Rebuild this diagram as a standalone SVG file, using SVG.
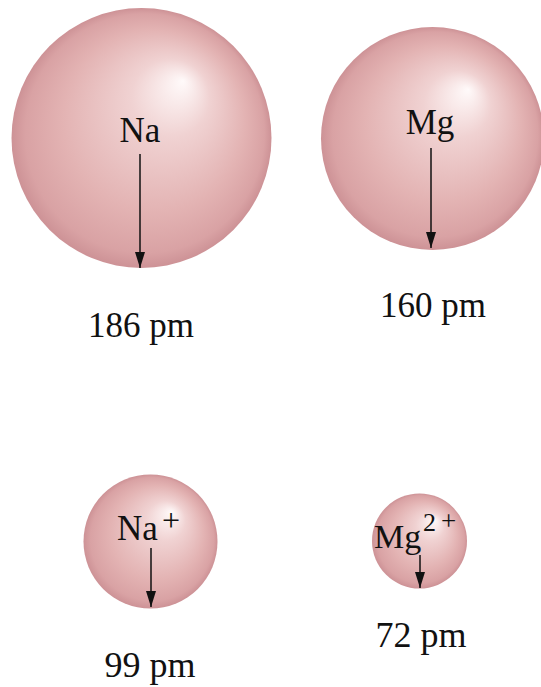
<svg xmlns="http://www.w3.org/2000/svg" width="541" height="687" viewBox="0 0 541 687">
<defs>
<radialGradient id="ball" cx="0.5" cy="0.5" r="0.5" fx="0.66" fy="0.28">
<stop offset="0" stop-color="#fffafa"/>
<stop offset="0.3" stop-color="#f0d2d2"/>
<stop offset="0.7" stop-color="#e3b3b3"/>
<stop offset="0.92" stop-color="#d9a2a4"/>
<stop offset="1" stop-color="#cd9296"/>
</radialGradient>
<marker id="ah" viewBox="0 0 16 10" refX="16" refY="5" markerWidth="16" markerHeight="10" markerUnits="userSpaceOnUse" orient="auto">
<path d="M0,0 L16,5 L0,10 Z" fill="#111"/>
</marker>
</defs>
<style>
.sphere{fill:url(#ball)}
.t{font-family:"Liberation Serif","Times New Roman",serif;fill:#111}
.arr{stroke:#111;stroke-width:1.5;fill:none;marker-end:url(#ah)}
</style>
<rect width="541" height="687" fill="#fff"/>
<g id="na">
<circle class="sphere" cx="141.5" cy="138" r="130"/>
<text class="t" x="140" y="142" font-size="35" text-anchor="middle">Na</text>
<text class="t" x="141" y="337" font-size="35" text-anchor="middle">186 pm</text>
</g>
<g id="mg">
<circle class="sphere" cx="432.5" cy="138.5" r="111.5"/>
<text class="t" x="430" y="134" font-size="35" text-anchor="middle">Mg</text>
<text class="t" x="433" y="317" font-size="35" text-anchor="middle">160 pm</text>
</g>
<g id="na-ion">
<circle class="sphere" cx="150.5" cy="541.5" r="67"/>
<text class="t" x="117" y="540" font-size="35">Na</text>
<text class="t" x="162" y="531" font-size="32">+</text>
<text class="t" x="150" y="677" font-size="36" text-anchor="middle">99 pm</text>
</g>
<g id="mg-ion">
<circle class="sphere" cx="419.5" cy="541" r="47.5"/>
<text class="t" x="374" y="548" font-size="34">Mg</text>
<text class="t" x="423" y="531" font-size="26">2</text>
<text class="t" x="441" y="530" font-size="27">+</text>
<text class="t" x="421" y="647" font-size="36" text-anchor="middle">72 pm</text>
</g>
<g id="connectors">
<line class="arr" x1="140" y1="154" x2="140" y2="268"/>
<line class="arr" x1="431" y1="148" x2="431" y2="248"/>
<line class="arr" x1="151" y1="548" x2="151" y2="607"/>
<line class="arr" x1="420" y1="555" x2="420" y2="588"/>
</g>
</svg>
